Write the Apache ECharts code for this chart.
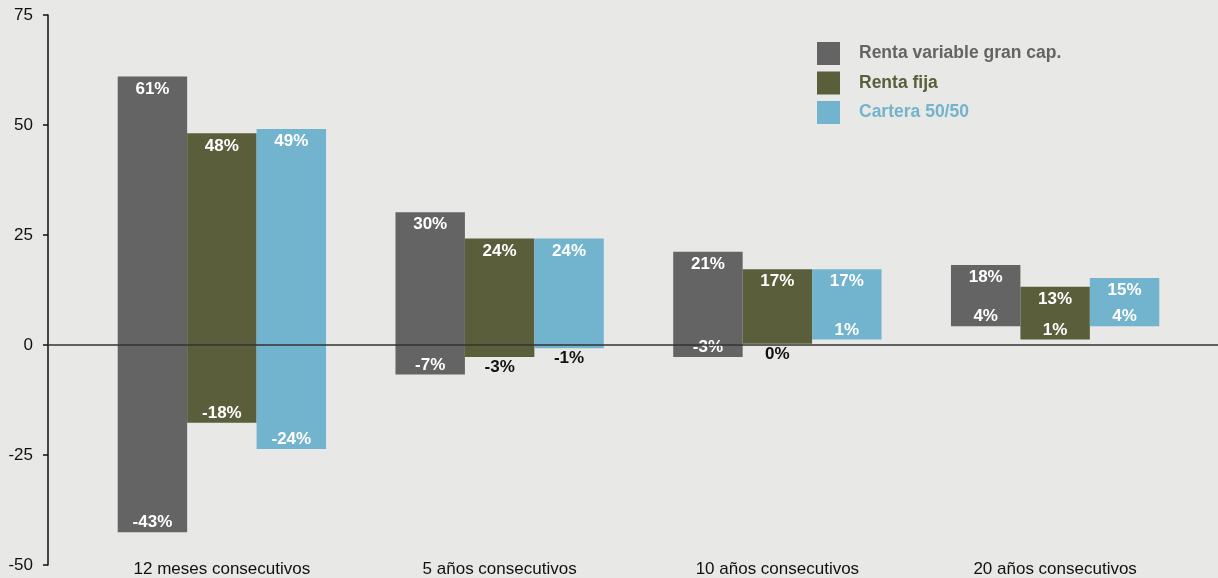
<!DOCTYPE html>
<html>
<head>
<meta charset="utf-8">
<script src="https://cdn.jsdelivr.net/npm/echarts@6/dist/echarts.min.js"></script>
<style>
  html, body { margin: 0; padding: 0; background: #e8e8e6; }
  #chart { width: 1218px; height: 578px; }
</style>
</head>
<body>
<div id="chart"></div>
<script>
// Rolling-period return ranges (best / worst), in percent
const categories = ['12 meses consecutivos', '5 años consecutivos', '10 años consecutivos', '20 años consecutivos'];
const seriesNames = ['Renta variable gran cap.', 'Renta fija', 'Cartera 50/50'];
const equityHigh = [61, 30, 21, 18];
const equityLow = [-43, -7, -3, 4];
const bondHigh = [48, 24, 17, 13];
const bondLow = [-18, -3, 0, 1];
const mixHigh = [49, 24, 17, 15];
const mixLow = [-24, -1, 1, 4];
const yTicks = [-50, -25, 0, 25, 50, 75];

const highs = [equityHigh, bondHigh, mixHigh];
const lows = [equityLow, bondLow, mixLow];
const colors = ['#646464', '#5a5e3a', '#72b3cd'];
const FONT = '"Liberation Sans", Arial, sans-serif';

// low-end labels that sit under the bar instead of inside it
const lowLabelBelow = { '1-1': true, '2-1': true, '1-2': true };

function lowLabel(value, i, s) {
  if (lowLabelBelow[i + '-' + s]) {
    return { show: true, position: 'bottom', distance: 2, color: '#111' };
  }
  // the offset bar runs from zero to the low end; the label sits just inside the coloured range
  return value < 0
    ? { show: true, position: 'insideBottom', distance: 1, color: '#ffffff' }
    : { show: true, position: 'top', distance: 1, color: '#ffffff' };
}

const series = [];
for (let s = 0; s < 3; s++) {
  const hi = highs[s], lo = lows[s];
  const stack = 'range' + s;
  // transparent offset from zero to the low end, carrying the low-value label
  series.push({
    name: 'offset' + s, type: 'bar', stack, stackStrategy: 'all',
    xAxisIndex: 1, yAxisIndex: 1, silent: true, z: 3,
    barGap: '0%', barCategoryGap: '25%',
    itemStyle: { color: 'transparent' },
    data: lo.map((v, i) => ({ value: v, label: lowLabel(v, i, s) })),
    label: {
      fontFamily: FONT, fontSize: 17, fontWeight: 'bold',
      formatter: p => lo[p.dataIndex] + '%'
    }
  });
  // coloured range from low to high, labelled with the high value
  series.push({
    name: seriesNames[s], type: 'bar', stack, stackStrategy: 'all',
    xAxisIndex: 1, yAxisIndex: 1, z: 2,
    barGap: '0%', barCategoryGap: '25%',
    itemStyle: { color: colors[s] },
    data: hi.map((h, i) => h - lo[i]),
    label: {
      show: true, position: 'insideTop', distance: 4,
      color: '#ffffff', fontFamily: FONT, fontSize: 17, fontWeight: 'bold',
      formatter: p => hi[p.dataIndex] + '%'
    }
  });
}

const chart = echarts.init(document.getElementById('chart'), null, { renderer: 'canvas' });
chart.setOption({
  backgroundColor: '#e8e8e6',
  animation: false,
  legend: {
    orient: 'vertical', left: 817, top: 42, padding: 0,
    itemWidth: 23, itemHeight: 23, itemGap: 6.5, icon: 'rect',
    selectedMode: false,
    textStyle: { fontFamily: FONT, fontSize: 17.5, fontWeight: 'bold', padding: [0, 0, 0, 14] },
    data: seriesNames.map((n, i) => ({ name: n, textStyle: { color: colors[i] } }))
  },
  grid: [
    { left: 48, right: 0, top: 15, bottom: 13 },
    { left: 83, right: 24, top: 15, bottom: 13 }
  ],
  xAxis: [
    {
      gridIndex: 0, type: 'value', min: 0, max: 1, z: 10,
      axisLine: { show: true, onZero: true, lineStyle: { color: '#333', width: 1.5 } },
      axisTick: { show: false }, axisLabel: { show: false }, splitLine: { show: false }
    },
    {
      gridIndex: 1, type: 'category', data: categories,
      axisLine: { show: false, onZero: false }, axisTick: { show: false },
      axisLabel: { color: '#111', fontFamily: FONT, fontSize: 17, margin: -2, interval: 0 }
    }
  ],
  yAxis: [
    {
      gridIndex: 0, type: 'value', min: yTicks[0], max: yTicks[yTicks.length - 1], interval: 25,
      axisLine: { show: true, lineStyle: { color: '#111', width: 1.5 } },
      axisTick: { show: true, length: 5, lineStyle: { color: '#111', width: 1.5 } },
      axisLabel: { color: '#111', fontFamily: FONT, fontSize: 17, margin: 15 },
      splitLine: { show: false }
    },
    {
      gridIndex: 1, type: 'value', min: yTicks[0], max: yTicks[yTicks.length - 1], interval: 25,
      show: false, splitLine: { show: false }
    }
  ],
  series
});
</script>
</body>
</html>
